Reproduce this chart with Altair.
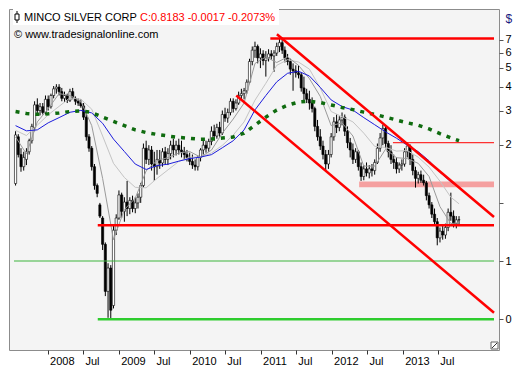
import altair as alt
import pandas as pd

# ---------------- text ----------------
symbol_name = "MINCO SILVER CORP"
quote_text = "C:0.8183 -0.0017 -0.2073%"
source_text = "\u00a9 www.tradesignalonline.com"
currency_label = "$"

# ---------------- candles (bi-weekly) ----------------
first_candle = "2007-07-20"
candle_step = "14D"

opens = [1.26, 2.20, 1.78, 1.54, 1.68, 1.84, 2.10, 2.46, 3.22, 3.01,
         3.15, 2.94, 3.44, 3.15, 3.60, 3.90, 3.98, 3.77, 3.48, 3.60,
         3.40, 3.77, 3.48, 3.36, 3.29, 3.18, 2.78, 2.20, 1.92, 1.54,
         1.23, 0.977, 0.835, 0.610, 0.348, 0.460, 0.294, 0.722, 0.835, 1.10,
         0.904, 1.01, 0.935, 1.03, 0.935, 1.00, 1.07, 1.23, 1.92, 1.68,
         1.88, 1.59, 1.54, 1.68, 1.61, 1.84, 1.68, 1.80, 1.99, 1.88,
         1.99, 1.88, 1.84, 1.78, 1.72, 1.64, 1.57, 1.54, 1.72, 1.88,
         1.99, 1.92, 2.08, 2.35, 2.22, 2.46, 2.30, 2.87, 2.75, 2.94,
         3.36, 3.08, 3.29, 3.60, 3.68, 3.81, 4.22, 5.40, 6.18, 6.46,
         5.64, 5.91, 5.46, 5.64, 5.91, 5.77, 5.97, 6.46, 6.76, 6.18,
         5.64, 5.40, 4.93, 4.83, 4.72, 4.61, 3.94, 3.68, 3.44, 3.29,
         3.08, 2.49, 2.20, 1.97, 1.78, 1.59, 1.78, 2.20, 2.63, 2.46,
         2.69, 2.78, 2.35, 2.05, 1.88, 1.68, 1.84, 1.54, 1.37, 1.50,
         1.43, 1.50, 1.47, 1.62, 1.92, 2.17, 2.43, 2.03, 1.84, 1.68,
         1.62, 1.50, 1.57, 1.59, 1.84, 1.97, 1.68, 1.47, 1.34, 1.40,
         1.31, 1.27, 1.09, 0.977, 0.874, 0.799, 0.659, 0.714, 0.682, 0.746,
         0.894, 0.854, 0.781, 0.817]
highs = [2.35, 2.27, 1.92, 1.84, 1.92, 2.15, 2.57, 3.36, 3.48, 3.29,
         3.29, 3.60, 3.60, 3.68, 4.03, 4.12, 4.12, 3.94, 3.77, 3.68,
         3.90, 3.94, 3.56, 3.48, 3.44, 3.29, 2.94, 2.27, 1.97, 1.59,
         1.26, 1.00, 0.854, 0.624, 0.487, 0.476, 0.763, 0.873, 1.16, 1.13,
         1.07, 1.30, 1.07, 1.09, 1.07, 1.12, 1.27, 2.03, 2.10, 1.99,
         1.97, 1.84, 1.88, 1.88, 1.92, 1.95, 1.92, 2.10, 2.15, 2.10,
         2.15, 2.10, 1.95, 1.88, 1.82, 1.78, 1.68, 1.76, 1.92, 2.10,
         2.10, 2.15, 2.49, 2.54, 2.57, 2.63, 3.01, 3.11, 3.08, 3.48,
         3.48, 3.44, 3.77, 3.90, 3.94, 4.36, 5.58, 6.46, 6.84, 6.61,
         6.32, 6.18, 6.11, 6.25, 6.18, 6.18, 6.76, 7.07, 6.99, 6.46,
         5.91, 5.58, 5.28, 5.16, 5.16, 4.72, 4.51, 3.90, 3.81, 3.52,
         3.15, 2.69, 2.41, 2.10, 1.88, 1.88, 2.30, 2.78, 2.87, 2.81,
         2.94, 2.87, 2.49, 2.17, 2.03, 1.92, 1.88, 1.62, 1.57, 1.62,
         1.57, 1.59, 1.68, 2.03, 2.30, 2.54, 2.52, 2.10, 1.99, 1.78,
         1.72, 1.62, 1.68, 1.92, 2.05, 2.01, 1.78, 1.54, 1.45, 1.47,
         1.40, 1.30, 1.13, 1.01, 0.935, 0.835, 0.746, 0.763, 0.781, 0.935,
         1.13, 0.914, 0.854, 0.854]
lows = [1.23, 1.72, 1.45, 1.47, 1.57, 1.78, 2.03, 2.35, 2.87, 2.84,
        2.87, 2.87, 3.01, 3.08, 3.48, 3.68, 3.60, 3.36, 3.33, 3.29,
        3.33, 3.44, 3.22, 3.18, 3.11, 2.69, 2.10, 1.84, 1.47, 1.17,
        1.07, 0.835, 0.570, 0.329, 0.254, 0.248, 0.284, 0.682, 0.817, 0.835,
        0.799, 0.854, 0.874, 0.894, 0.884, 0.935, 1.00, 1.20, 1.59, 1.57,
        1.47, 1.30, 1.40, 1.50, 1.54, 1.59, 1.57, 1.68, 1.72, 1.76,
        1.78, 1.72, 1.68, 1.64, 1.57, 1.50, 1.47, 1.47, 1.64, 1.78,
        1.82, 1.84, 1.99, 2.10, 2.15, 2.20, 2.25, 2.63, 2.60, 2.84,
        2.94, 3.01, 3.22, 3.40, 3.44, 3.68, 4.12, 5.16, 5.64, 5.28,
        4.99, 5.16, 4.51, 5.40, 5.52, 4.77, 5.77, 6.04, 5.91, 5.34,
        5.16, 4.61, 3.81, 4.46, 4.41, 3.77, 3.40, 3.29, 3.04, 2.94,
        2.35, 2.10, 1.88, 1.68, 1.45, 1.50, 1.72, 2.10, 2.30, 2.35,
        2.52, 2.22, 1.92, 1.72, 1.59, 1.61, 1.47, 1.30, 1.31, 1.37,
        1.34, 1.37, 1.40, 1.59, 1.84, 1.99, 1.92, 1.72, 1.59, 1.50,
        1.42, 1.43, 1.47, 1.54, 1.72, 1.57, 1.39, 1.20, 1.26, 1.27,
        1.23, 1.03, 0.935, 0.835, 0.763, 0.603, 0.624, 0.645, 0.652, 0.714,
        0.808, 0.746, 0.738, 0.772]
closes = [2.25, 1.78, 1.54, 1.72, 1.84, 2.10, 2.49, 3.22, 3.01, 3.15,
          2.94, 3.44, 3.15, 3.60, 3.90, 3.98, 3.77, 3.48, 3.60, 3.40,
          3.77, 3.52, 3.36, 3.29, 3.18, 2.78, 2.20, 1.92, 1.54, 1.23,
          1.12, 0.854, 0.610, 0.348, 0.460, 0.278, 0.722, 0.835, 1.10, 0.904,
          1.01, 0.935, 1.03, 0.935, 1.00, 1.07, 1.23, 1.92, 1.68, 1.88,
          1.59, 1.54, 1.68, 1.61, 1.84, 1.68, 1.80, 1.99, 1.88, 1.99,
          1.88, 1.84, 1.78, 1.72, 1.64, 1.57, 1.54, 1.72, 1.88, 1.99,
          1.92, 2.08, 2.35, 2.22, 2.46, 2.30, 2.87, 2.75, 2.94, 3.36,
          3.08, 3.29, 3.60, 3.68, 3.81, 4.22, 5.40, 6.18, 6.46, 5.64,
          5.91, 5.46, 5.64, 5.91, 5.77, 5.97, 6.46, 6.76, 6.18, 5.64,
          5.40, 4.93, 4.83, 4.72, 4.61, 3.94, 3.68, 3.44, 3.29, 3.08,
          2.49, 2.20, 1.97, 1.78, 1.59, 1.78, 2.20, 2.63, 2.46, 2.69,
          2.78, 2.35, 2.05, 1.88, 1.68, 1.84, 1.54, 1.37, 1.50, 1.43,
          1.50, 1.47, 1.62, 1.92, 2.17, 2.43, 2.03, 1.84, 1.68, 1.62,
          1.50, 1.57, 1.59, 1.84, 1.97, 1.68, 1.47, 1.34, 1.40, 1.31,
          1.27, 1.09, 0.977, 0.874, 0.799, 0.659, 0.714, 0.682, 0.746, 0.894,
          0.854, 0.781, 0.817, 0.8183]

# ---------------- moving averages (read every 4th candle + last) ----------------
ma_step = 4
ma_fast = [2.196, 1.794, 2.628, 3.076, 3.681, 3.600, 3.365, 2.513, 1.339, 0.645,
           0.924, 1.058, 1.465, 1.658, 1.715, 1.814, 1.845, 1.725, 1.876, 2.297,
           2.718, 3.290, 5.275, 5.706, 5.335, 5.706, 5.157, 4.406, 3.560, 2.513,
           2.599, 2.221, 1.550, 1.550, 1.897, 1.715, 1.696, 1.603, 1.370, 0.956,
           0.781, 0.790]
ma_slow = [2.375, 2.233, 2.527, 2.859, 3.163, 3.500, 3.442, 3.059, 2.221, 1.603,
           1.354, 1.204, 1.197, 1.339, 1.482, 1.640, 1.725, 1.728, 1.814, 1.985,
           2.246, 2.628, 3.403, 4.166, 5.157, 5.517, 5.365, 4.931, 3.938, 2.974,
           2.796, 2.628, 2.297, 1.962, 1.940, 1.855, 1.866, 1.725, 1.533, 1.295,
           1.070, 0.989]
ma_mid = [2.513, 2.362, 2.389, 2.599, 2.765, 2.947, 3.014, 2.924, 2.584, 2.140,
          1.845, 1.589, 1.490, 1.560, 1.587, 1.645, 1.696, 1.727, 1.778, 1.930,
          2.099, 2.389, 3.031, 3.600, 4.237, 4.693, 4.805, 4.543, 3.965, 3.415,
          3.156, 3.024, 2.765, 2.541, 2.333, 2.164, 1.989, 1.843, 1.652, 1.441,
          1.285, 1.206]
ma_long = [2.974, 2.908, 2.875, 2.892, 2.924, 2.974, 2.998, 2.941, 2.780, 2.643,
           2.513, 2.389, 2.315, 2.263, 2.221, 2.184, 2.159, 2.135, 2.140, 2.166,
           2.196, 2.297, 2.527, 2.780, 3.031, 3.207, 3.327, 3.365, 3.309, 3.217,
           3.121, 3.042, 2.951, 2.875, 2.780, 2.688, 2.599, 2.527, 2.416, 2.284,
           2.171, 2.099]

# ---------------- drawn objects ----------------
x_start = (2007, 7, 12)
x_end = (2014, 4, 16)
line_end = "2014-04-16"
y_min, y_max = 0.173, 10.1

thick_red_starts = ["2011-02-20", "2008-09-15"]
thick_red_values = [7.1, 0.765]
thin_red_start = ["2012-11-12"]
thin_red_value = [2.05]
thin_green_start = ["2007-07-12"]
thin_green_value = [0.5]
thick_green_start = ["2008-09-15"]
thick_green_value = [0.25]
zone_start = ["2012-05-22"]
zone_low = [1.206]
zone_high = [1.29]
channel_start_dates = ["2011-03-26", "2010-08-29"]
channel_start_values = [7.47, 3.6]
channel_end_values = [0.845, 0.27]

x_tick_months = [(2008, 1), (2008, 7), (2009, 1), (2009, 7), (2010, 1), (2010, 7),
                 (2011, 1), (2011, 7), (2012, 1), (2012, 7), (2013, 1), (2013, 7)]
y_tick_values = [0.25, 0.5, 1, 2, 3, 4, 5, 6, 7]
y_tick_labels = ["0", "1", "", "2", "3", "4", "5", "6", "7"]

# ---------------- frames ----------------
dates = pd.date_range(first_candle, periods=len(opens), freq=candle_step)
candles = pd.DataFrame({"date": dates, "open": opens, "high": highs,
                        "low": lows, "close": closes})
ma_idx = list(range(0, len(opens), ma_step))
if ma_idx[-1] != len(opens) - 1:
    ma_idx.append(len(opens) - 1)
ma_df = pd.DataFrame({"date": dates[ma_idx], "fast": ma_fast, "slow": ma_slow,
                      "mid": ma_mid, "long": ma_long})

W, H = 490, 341

x_scale = alt.Scale(domain=[alt.DateTime(year=x_start[0], month=x_start[1], date=x_start[2]),
                            alt.DateTime(year=x_end[0], month=x_end[1], date=x_end[2])])
y_scale = alt.Scale(type="log", domain=[y_min, y_max], nice=False, zero=False)

label_expr = "''"
for v, l in zip(y_tick_values, y_tick_labels):
    label_expr = f"datum.value == {v} ? '{l}' : ({label_expr})"

x_axis = alt.Axis(values=[alt.DateTime(year=y, month=m, date=1) for y, m in x_tick_months],
                  labelExpr="month(datum.value) == 0 ? timeFormat(datum.value, '%Y') : 'Jul'",
                  title=None, grid=False, domain=False, tickSize=4, tickColor="#333333",
                  labelAlign="left", labelBaseline="top", labelPadding=1, labelOffset=2,
                  labelFont="Liberation Sans", labelFontSize=11, labelColor="black")
y_axis = alt.Axis(orient="right", values=y_tick_values, labelExpr=label_expr,
                  title=currency_label, titleAngle=0, titleFont="Liberation Sans",
                  titleFontSize=12, titleFontWeight="normal", titleColor="#1a1a80",
                  titleX=6, titleY=4, titleAlign="left", titleBaseline="top",
                  grid=False, domain=False, tickSize=4, tickColor="#555555",
                  labelPadding=2, labelFont="Liberation Sans", labelFontSize=11,
                  labelColor="black")


def X(f="date"):
    return alt.X(f"{f}:T", scale=x_scale, axis=x_axis)


def Y(f):
    return alt.Y(f"{f}:Q", scale=y_scale, axis=y_axis)


# zone band
zone = alt.Chart(pd.DataFrame({"s": zone_start, "e": [line_end], "lo": zone_low, "hi": zone_high})
                 ).mark_rect(color="#f5a0a0").encode(
    x=X("s"), x2="e:T", y=Y("lo"), y2="hi:Q")

# candles
wicks = alt.Chart(candles).mark_rule(color="black", strokeWidth=1).encode(
    x=X("date"), y=Y("low"), y2="high:Q")
bodies = alt.Chart(candles).mark_bar(size=2.2, stroke="black", strokeWidth=0.6).encode(
    x=X(), y=Y("open"), y2="close:Q",
    fill=alt.condition("datum.close >= datum.open", alt.value("white"), alt.value("black")))

# moving averages
ma_base = alt.Chart(ma_df)
l_slow = ma_base.mark_line(color="#c4c4c4", strokeWidth=1).encode(x=X(), y=Y("slow"))
l_fast = ma_base.mark_line(color="#9a9a9a", strokeWidth=1).encode(x=X(), y=Y("fast"))
l_mid = ma_base.mark_line(color="#1c1cdc", strokeWidth=1).encode(x=X(), y=Y("mid"))
l_long = ma_base.mark_line(color="#0f6b0f", strokeWidth=3.5, strokeDash=[4, 6]).encode(
    x=X(), y=Y("long"))

# level lines
thin_green = alt.Chart(pd.DataFrame({"s": thin_green_start, "e": [line_end], "v": thin_green_value})
                       ).mark_rule(color="#3cb43c", strokeWidth=1).encode(x=X("s"), x2="e:T", y=Y("v"))
thick_green = alt.Chart(pd.DataFrame({"s": thick_green_start, "e": [line_end], "v": thick_green_value})
                        ).mark_rule(color="#2ecc2e", strokeWidth=2.5).encode(x=X("s"), x2="e:T", y=Y("v"))
thin_red = alt.Chart(pd.DataFrame({"s": thin_red_start, "e": [line_end], "v": thin_red_value})
                     ).mark_rule(color="#ff0000", strokeWidth=1).encode(x=X("s"), x2="e:T", y=Y("v"))
thick_red = alt.Chart(pd.DataFrame({"s": thick_red_starts, "e": [line_end] * 2, "v": thick_red_values})
                      ).mark_rule(color="#ff0000", strokeWidth=2.5).encode(x=X("s"), x2="e:T", y=Y("v"))
channel = alt.Chart(pd.DataFrame({"s": channel_start_dates, "e": [line_end] * 2,
                                  "v1": channel_start_values, "v2": channel_end_values})
                    ).mark_rule(color="#ff0000", strokeWidth=2.5).encode(
    x=X("s"), x2="e:T", y=Y("v1"), y2="v2:Q")

# header annotations
one = pd.DataFrame({"t": [symbol_name], "q": [quote_text], "src": [source_text]})
hdr_box = alt.Chart(one).mark_rect(fill="white").encode(
    x=alt.value(4), x2=alt.value(270), y=alt.value(0), y2=alt.value(16))
icon_line = alt.Chart(one).mark_rule(color="black", strokeWidth=1).encode(
    x=alt.value(8), y=alt.value(2), y2=alt.value(14))
icon_body = alt.Chart(one).mark_rect(fill="white", stroke="black", strokeWidth=1).encode(
    x=alt.value(6), x2=alt.value(10), y=alt.value(5), y2=alt.value(11))
t_name = alt.Chart(one).mark_text(align="left", baseline="middle", font="Liberation Sans",
                                  fontSize=11, color="black").encode(
    x=alt.value(15), y=alt.value(9), text="t:N")
t_quote = alt.Chart(one).mark_text(align="left", baseline="middle", font="Liberation Sans",
                                   fontSize=11, color="#ff0000").encode(
    x=alt.value(131), y=alt.value(9), text="q:N")
t_src = alt.Chart(one).mark_text(align="left", baseline="middle", font="Liberation Sans",
                                 fontSize=11, color="black").encode(
    x=alt.value(5), y=alt.value(26), text="src:N")
corner = alt.Chart(one).mark_rect(fill="white", stroke="#666666", strokeWidth=1).encode(
    x=alt.value(W - 8), x2=alt.value(W - 1), y=alt.value(H - 8), y2=alt.value(H - 1))
corner_diag = alt.Chart(one).mark_rule(color="#333333", strokeWidth=1).encode(
    x=alt.value(W - 7), x2=alt.value(W - 2), y=alt.value(H - 2), y2=alt.value(H - 7))

chart = alt.layer(
    zone, wicks, bodies, l_slow, l_fast, l_mid, l_long,
    thin_green, thick_green, thin_red, thick_red, channel,
    hdr_box, icon_line, icon_body, t_name, t_quote, t_src, corner, corner_diag
).properties(
    width=W, height=H,
    padding={"left": 1, "top": 1, "right": 16, "bottom": 19},
    autosize=alt.AutoSizeParams(type="none"),
    background="white"
).configure_view(stroke="#8c8c8c", strokeWidth=1, fill="#f4f4f4")

chart.save("out.html", embed_options={"renderer": "svg", "actions": False})
